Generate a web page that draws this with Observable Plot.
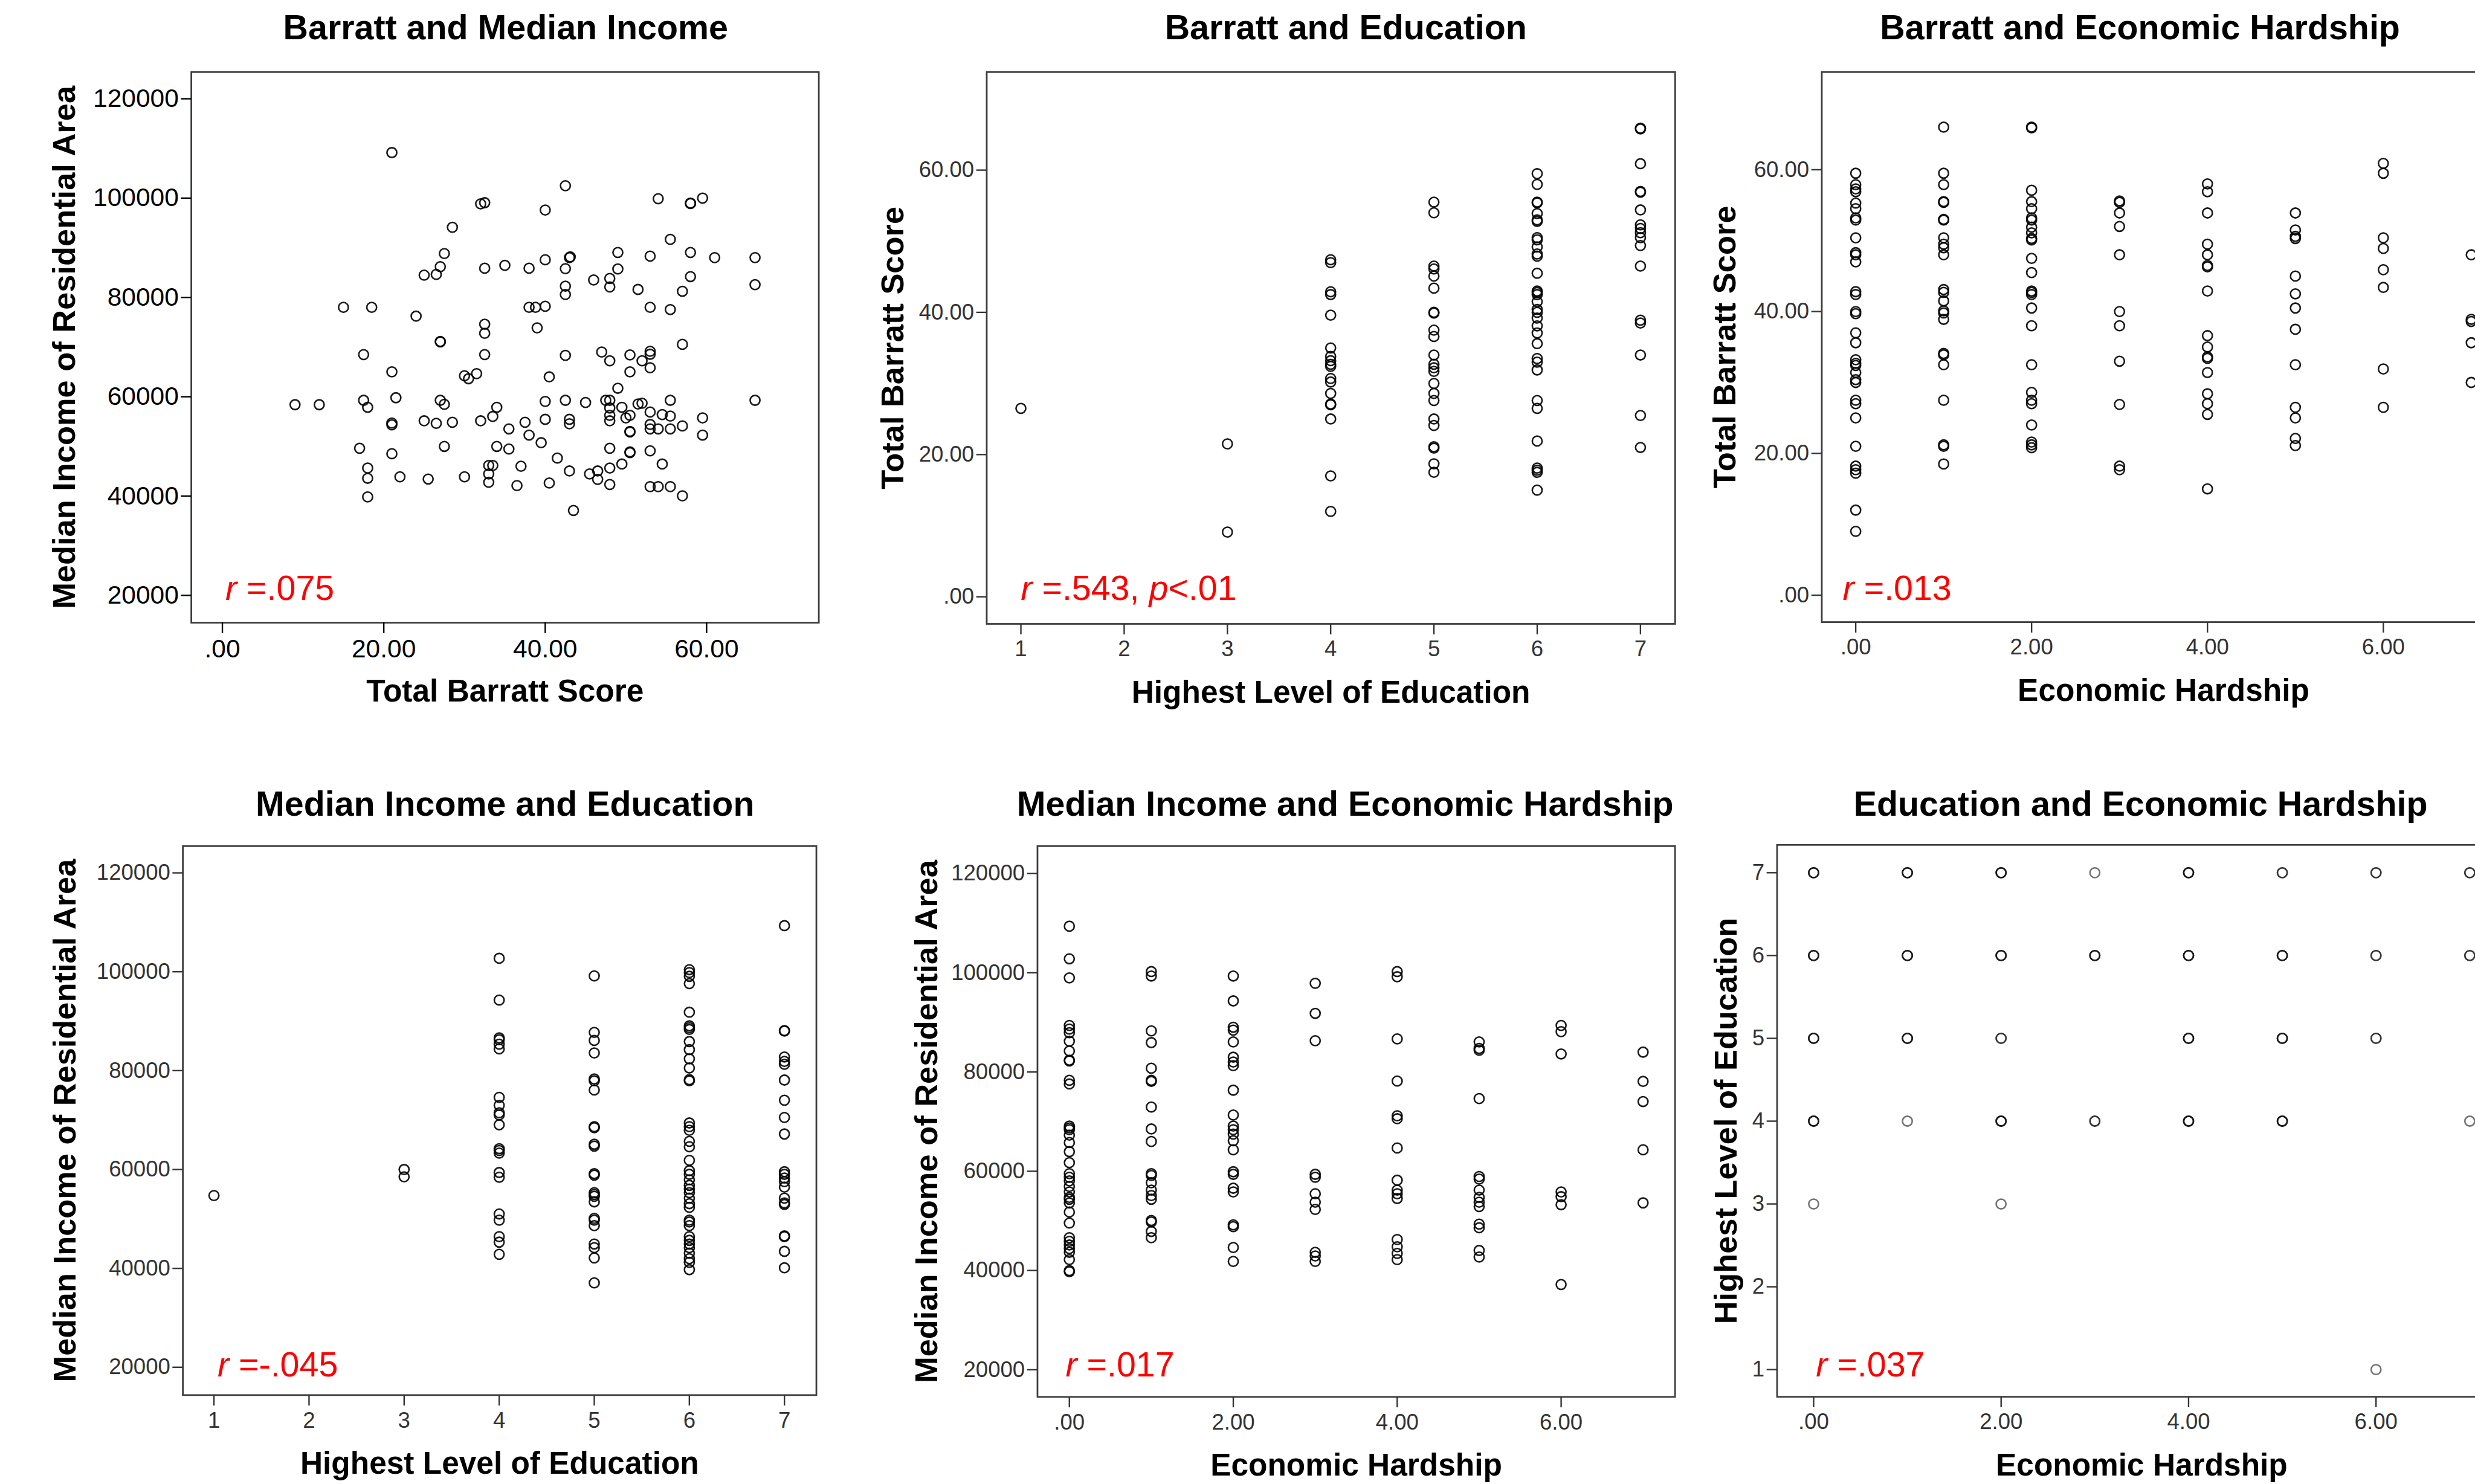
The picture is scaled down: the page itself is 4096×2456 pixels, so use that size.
<!DOCTYPE html>
<html><head><meta charset="utf-8">
<script src="https://cdn.jsdelivr.net/npm/d3@7"></script>
<script src="https://cdn.jsdelivr.net/npm/@observablehq/plot@0.6"></script>
<style>
html,body{margin:0;padding:0;background:#fff;overflow:hidden}
#root{position:relative;width:4096px;height:2456px;overflow:hidden;background:#fff;font-family:"Liberation Sans",Arial,sans-serif}
.title{position:absolute;white-space:nowrap;font-weight:bold;color:#000;text-align:center;line-height:1}
.panel{position:absolute}
</style></head><body><div id="root"></div>
<script>
const S = 0.989;
const FONT = '"Liberation Sans", Arial, sans-serif';

// ---------- DATA ----------
// Panel 1: Total Barratt Score vs Median Income
const p1Barratt = [21.0,42.5,32.0,32.5,40.0,54.0,58.0,58.0,59.5,28.5,55.5,27.5,49.0,53.0,58.0,61.0,66.0,43.0,43.1,40.0,27.0,25.0,26.5,32.5,35.0,38.0,42.5,49.0,46.0,48.0,48.0,58.0,42.5,42.5,51.5,57.0,66.0,15.0,18.5,24.0,38.0,38.8,40.0,53.0,55.5,32.5,32.5,39.0,27.0,27.0,57.0,17.5,32.5,42.5,47.0,48.0,50.5,52.0,53.0,53.0,53.0,50.5,21.0,30.0,30.5,31.5,40.5,49.0,9.0,12.0,17.5,18.0,21.5,27.0,27.5,34.0,40.0,42.5,45.0,47.5,48.0,48.0,49.5,51.5,52.0,55.5,66.0,53.0,54.5,55.5,48.0,48.0,50.0,50.5,59.5,21.0,21.0,25.0,26.5,28.5,32.0,33.5,35.5,37.5,40.0,43.0,43.0,50.5,50.5,53.0,53.0,54.0,55.5,57.0,59.5,38.0,17.0,21.0,27.5,34.0,35.5,39.5,48.0,50.5,50.5,53.0,41.5,18.0,18.0,18.0,22.0,25.5,30.0,33.0,33.5,33.0,33.0,37.0,36.5,40.5,43.0,43.5,45.5,46.5,46.5,48.0,48.0,49.5,54.5,53.0,54.0,55.5,57.0];
const p1Income = [109170,102500,98850,99070,97600,99880,99000,98900,100000,94130,91700,88830,89050,88310,89050,88020,88020,88020,88170,87580,86180,84480,84630,85880,86470,85880,85800,85730,83520,83820,82120,84190,82270,80580,81610,81240,82570,78000,78000,76230,78000,78000,78220,78000,77560,74610,72770,73870,71130,71050,70550,68490,68490,68340,69000,67240,68420,67240,69150,68560,65830,65020,65020,64220,63630,64660,64000,61710,58400,58400,59280,57880,59800,59280,58470,57880,59060,59280,58840,59280,59280,57730,57880,58540,58690,59280,59280,56920,56400,56110,56250,55150,55740,56250,55740,54710,54340,55150,54640,54860,55150,56030,53530,54860,55450,55450,54560,53010,52900,54420,53530,53530,53530,54120,52280,52280,49630,48520,50000,50000,49480,50740,49630,48890,48750,49110,47640,45640,43580,39820,43870,43430,43870,46160,46160,44460,42770,46010,42110,42620,45050,37100,44460,45050,43360,45640,42330,46450,46450,41890,41890,41890,40050];

// Panel 2: Highest Level of Education vs Total Barratt Score
const p2Levels = [1,3,4,5,6,7];
const p2Scores = [
  [26.5],
  [21.5,9.1],
  [47.4,47.0,42.9,42.5,39.6,35.0,33.8,33.2,32.7,32.4,30.7,30.2,28.6,27.1,27.0,25.0,17.0,12.0],
  [55.5,54.0,46.5,46.1,45.1,43.4,40.0,39.9,37.5,36.6,34.0,32.7,32.2,31.7,30.0,28.6,27.6,25.0,24.1,21.1,20.9,18.7,17.5],
  [59.5,58.0,55.5,55.4,53.9,53.0,52.8,50.5,50.2,49.2,48.2,47.9,45.5,43.0,42.8,42.5,41.5,40.4,40.0,39.2,38.1,37.1,35.6,33.5,33.0,31.9,27.6,26.5,21.9,18.1,17.8,17.5,15.0],
  [65.9,65.8,60.9,57.0,56.9,54.4,52.3,51.8,51.2,50.5,49.4,46.5,38.9,38.5,34.0,25.5,21.0]
];

// Panel 3: Economic Hardship vs Total Barratt Score
const p3Hardship = [0,1,2,3,4,5,6,7];
const p3Scores = [
  [59.5,57.9,57.3,56.9,55.3,54.5,53.2,52.9,50.4,48.3,48.0,47.0,42.8,42.4,40.0,39.7,37.0,35.6,33.2,32.7,32.4,31.4,30.4,30.0,27.5,27.0,25.0,21.0,18.2,17.7,17.2,12.0,9.0],
  [66.0,59.5,57.9,55.5,55.4,53.0,52.9,50.4,49.5,49.0,48.0,43.1,42.7,41.5,40.1,39.8,38.9,34.1,33.9,32.5,27.5,21.2,21.0,18.5],
  [66.0,65.9,57.1,55.5,54.5,53.2,52.9,51.9,51.1,50.3,50.1,47.5,45.5,42.9,42.7,42.4,40.5,38.0,32.5,28.6,27.5,27.0,24.0,21.6,21.2,20.8],
  [55.6,55.4,53.9,52.0,48.0,40.0,38.0,33.0,26.9,18.2,17.7],
  [58.0,56.9,53.9,49.5,48.0,46.5,46.3,42.9,36.6,35.0,33.6,33.4,31.4,28.4,27.0,25.5,15.0],
  [53.9,51.5,50.6,50.3,45.0,42.5,40.5,37.5,32.5,26.5,25.0,22.1,21.1],
  [60.9,59.5,50.4,48.9,45.9,43.4,31.9,26.5],
  [48.0,38.9,38.6,35.6,30.0]
];

// Panel 4: Highest Level of Education vs Median Income
const p4Levels = [1,3,4,5,6,7];
const p4Income = [
  [54720],
  [60000,58520],
  [102720,94260,86620,86250,85350,84390,74600,72970,71480,71040,69040,64210,63840,63320,59390,58430,51010,49750,46410,45300,42850],
  [99150,87730,86100,83580,78310,77940,76080,68660,68440,65100,64730,59170,58870,55310,54940,54570,53460,50120,49750,48640,44930,44180,42110,37060],
  [100420,99820,99080,97600,91810,89070,88700,88330,85880,84240,82390,80530,78160,77940,69410,68660,67920,65700,64590,61840,59760,59020,57910,56790,56050,55310,54200,53090,52340,49750,49380,48640,46410,45670,44930,44180,43070,41960,41220,39740],
  [109320,88100,88000,82760,81870,81280,78090,74010,70530,67180,59540,59020,58280,57540,56430,54200,53240,52940,46560,46410,43440,40110]
];

// Panel 5: Economic Hardship vs Median Income
const p5Hardship = [0,1,2,3,4,5,6,7];
const p5Income = [
  [109380,102820,98980,89390,88660,87920,86220,84230,82390,82240,78330,77590,69110,68740,68370,67270,65790,63950,61740,59530,58790,58050,56940,55840,54730,54360,53630,51780,49570,46620,45880,45140,44410,43670,42190,39980,39760],
  [100240,99350,88290,85930,80760,78330,78110,72950,68520,66010,59530,59160,57680,56210,55100,54360,50090,49790,47870,46620],
  [99350,94330,89030,88440,86070,82980,82020,81280,76340,71330,69110,68370,67490,66160,64320,59900,59380,56580,55840,49200,48830,44630,41830],
  [97880,91830,86300,59380,58790,55470,53770,52300,43670,42930,41830],
  [100240,99200,86670,78180,71180,70590,64690,58200,56210,55470,54510,46250,44780,43450,42190],
  [86070,84750,84380,74640,58940,58420,56210,54730,53770,52890,49350,48610,44040,42710],
  [89390,88140,83640,55840,54880,53260,37180],
  [84010,78110,74050,64320,53630]
];

// Panel 6: Economic Hardship vs Highest Level of Education (with overlap counts)
const p6Hardship  = [0,1,2,3,4,5,6,7, 0,1,2,3,4,5,6,7, 0,1,2,4,5,6, 0,1,2,3,4,5,7, 0,2, 6];
const p6Education = [7,7,7,7,7,7,7,7, 6,6,6,6,6,6,6,6, 5,5,5,5,5,5, 4,4,4,4,4,4,4, 3,3, 1];
const p6Count     = [3,3,3,1,3,2,2,2, 3,3,3,3,3,3,2,2, 3,3,2,3,3,2, 3,1,3,2,3,3,1, 1,1, 1];

// Tick values
const incomeTicks = [20000,40000,60000,80000,100000,120000];
const barrattTicks = [0,20,40,60];
const eduTicks = [1,2,3,4,5,6,7];
const hardshipTicks = [0,2,4,6];

// Titles / labels
const titles = ["Barratt and Median Income","Barratt and Education","Barratt and Economic Hardship",
                "Median Income and Education","Median Income and Economic Hardship","Education and Economic Hardship"];

// ---------- helpers ----------
const fmt2 = d => d === 0 ? ".00" : d.toFixed(2);
const fmtInt = d => String(d);

const fromGroups = (keys, groups) => keys.flatMap((k, i) => groups[i].map(v => ({x: k, y: v})));

const d1 = p1Barratt.map((b, i) => ({x: b, y: p1Income[i]}));
const d2 = fromGroups(p2Levels, p2Scores);
const d3_ = fromGroups(p3Hardship, p3Scores);
const d4 = fromGroups(p4Levels, p4Income);
const d5 = fromGroups(p5Hardship, p5Income);
const d6 = p6Hardship.flatMap((h, i) => d3.range(p6Count[i]).map(() => ({x: h, y: p6Education[i]})));

const panels = [
  {data: d1, L: 320, R: 1370, T: 119.6, B: 1041, mL: 260, xDomain: [-3.85, 73.9], yDomain: [14500, 125380],
   xTicks: barrattTicks, xFmt: fmt2, yTicks: incomeTicks, yFmt: fmtInt, tickFont: 43, tickColor: "#000",
   xLabel: "Total Barratt Score", yLabel: "Median Income of Residential Area", yLabelOff: 212,
   rParts: [["r", true], [" =.075", false]], rDx: 57, rBase: 1003, title: titles[0], titleX: 846, titleBase: 66, dotOp: 0.9},
  {data: d2, L: 1650.5, R: 2802.5, T: 119.6, B: 1043, mL: 230, xDomain: [0.669, 7.336], yDomain: [-3.81, 73.79],
   xTicks: eduTicks, xFmt: fmtInt, yTicks: barrattTicks, yFmt: fmt2, tickFont: 37, tickColor: "#333",
   xLabel: "Highest Level of Education", yLabel: "Total Barratt Score", yLabelOff: 156.5,
   rParts: [["r", true], [" =.543, ", false], ["p", true], ["<.01", false]], rDx: 57, rBase: 1003, title: titles[1], titleX: 2252, titleBase: 66, dotOp: 0.9},
  {data: d3_, L: 3048.4, R: 4192, T: 119.6, B: 1040, mL: 230, xDomain: [-0.386, 7.386], yDomain: [-3.79, 73.77],
   xTicks: hardshipTicks, xFmt: fmt2, yTicks: barrattTicks, yFmt: fmt2, tickFont: 37, tickColor: "#333",
   xLabel: "Economic Hardship", yLabel: "Total Barratt Score", yLabelOff: 162,
   rParts: [["r", true], [" =.013", false]], rDx: 35, rBase: 1003, title: titles[2], titleX: 3581, titleBase: 66, dotOp: 0.9},
  {data: d4, L: 305.3, R: 1365.4, T: 1415.3, B: 2334, mL: 260, xDomain: [0.673, 7.336], yDomain: [14367, 125415],
   xTicks: eduTicks, xFmt: fmtInt, yTicks: incomeTicks, yFmt: fmtInt, tickFont: 37, tickColor: "#333",
   xLabel: "Highest Level of Education", yLabel: "Median Income of Residential Area", yLabelOff: 197,
   rParts: [["r", true], [" =-.045", false]], rDx: 58, rBase: 2303, title: titles[3], titleX: 845, titleBase: 1366, dotOp: 0.9},
  {data: d5, L: 1735.1, R: 2802, T: 1415.3, B: 2337, mL: 230, xDomain: [-0.389, 7.39], yDomain: [14530, 125530],
   xTicks: hardshipTicks, xFmt: fmt2, yTicks: incomeTicks, yFmt: fmtInt, tickFont: 37, tickColor: "#333",
   xLabel: "Economic Hardship", yLabel: "Median Income of Residential Area", yLabelOff: 185,
   rParts: [["r", true], [" =.017", false]], rDx: 47, rBase: 2303, title: titles[4], titleX: 2251, titleBase: 1366, dotOp: 0.9},
  {data: d6, L: 2972.7, R: 4193, T: 1413.5, B: 2337, mL: 230, xDomain: [-0.39, 7.39], yDomain: [0.672, 7.336],
   xTicks: hardshipTicks, xFmt: fmt2, yTicks: eduTicks, yFmt: fmtInt, tickFont: 37, tickColor: "#333",
   xLabel: "Economic Hardship", yLabel: "Highest Level of Education", yLabelOff: 85,
   rParts: [["r", true], [" =.037", false]], rDx: 65, rBase: 2303, title: titles[5], titleX: 3582, titleBase: 1366, dotOp: 0.55}
];

const root = document.getElementById("root");
const mR = 30, mT = 20, mB = 175;

panels.forEach(cfg => {
  const rText = cfg.rParts.map(p => p[0]).join("");
  const xMin = cfg.xDomain[0];
  const yMid = (cfg.yDomain[0] + cfg.yDomain[1]) / 2;
  const plot = Plot.plot({
    width: (cfg.mL + (cfg.R - cfg.L) + mR) * S,
    height: (mT + (cfg.B - cfg.T) + mB) * S,
    marginLeft: cfg.mL * S, marginRight: mR * S, marginTop: mT * S, marginBottom: mB * S,
    style: {background: "transparent", fontFamily: FONT, maxWidth: "none", overflow: "visible"},
    x: {domain: cfg.xDomain},
    y: {domain: cfg.yDomain},
    marks: [
      Plot.frame({stroke: "#3c3c3c", strokeWidth: 2.8 * S}),
      Plot.dot(cfg.data, {x: "x", y: "y", r: 8.2 * S, stroke: "#000", strokeOpacity: cfg.dotOp, strokeWidth: 2.6 * S, fill: "none"}),
      Plot.axisX({ticks: cfg.xTicks, tickFormat: cfg.xFmt, tickSize: 18 * S, tickPadding: 10 * S,
                  fontSize: cfg.tickFont * S, color: cfg.tickColor, strokeWidth: 2.4 * S, label: null}),
      Plot.axisY({ticks: cfg.yTicks, tickFormat: cfg.yFmt, tickSize: 17 * S, tickPadding: 4 * S,
                  fontSize: cfg.tickFont * S, color: cfg.tickColor, strokeWidth: 2.4 * S, label: null}),
      Plot.text([cfg.xLabel], {text: d => d, frameAnchor: "bottom", dy: 132 * S, lineAnchor: "bottom",
                  fontSize: 52 * S, fontWeight: "bold", fill: "#000"}),
      Plot.text([cfg.yLabel], {text: d => d, x: () => xMin, y: () => yMid, dx: -cfg.yLabelOff * S, rotate: -90,
                  lineAnchor: "middle", textAnchor: "middle", fontSize: 53 * S, fontWeight: "bold", fill: "#000"}),
      Plot.text([rText], {text: d => d, frameAnchor: "bottom-left", dx: cfg.rDx * S, dy: -(cfg.B - cfg.rBase) * S,
                  lineAnchor: "bottom", textAnchor: "start", fontSize: 58 * S, fill: "#ff0000"})
    ]
  });
  // italic statistic symbols
  d3.select(plot).selectAll("text").filter(function() { return this.textContent === rText; }).each(function() {
    const t = d3.select(this);
    t.text(null);
    cfg.rParts.forEach(([s, it]) => t.append("tspan").attr("font-style", it ? "italic" : null).text(s));
  });
  const wrap = document.createElement("div");
  wrap.className = "panel";
  wrap.style.left = ((cfg.L - cfg.mL) * S) + "px";
  wrap.style.top = ((cfg.T - mT) * S) + "px";
  wrap.appendChild(plot);
  root.appendChild(wrap);

  const fs = 58 * S;
  const title = document.createElement("div");
  title.className = "title";
  title.textContent = cfg.title;
  title.style.fontSize = fs + "px";
  title.style.width = "2000px";
  title.style.left = (cfg.titleX * S - 1000) + "px";
  title.style.top = (cfg.titleBase * S - 0.8465 * fs) + "px";
  root.appendChild(title);
});
</script>
</body></html>
